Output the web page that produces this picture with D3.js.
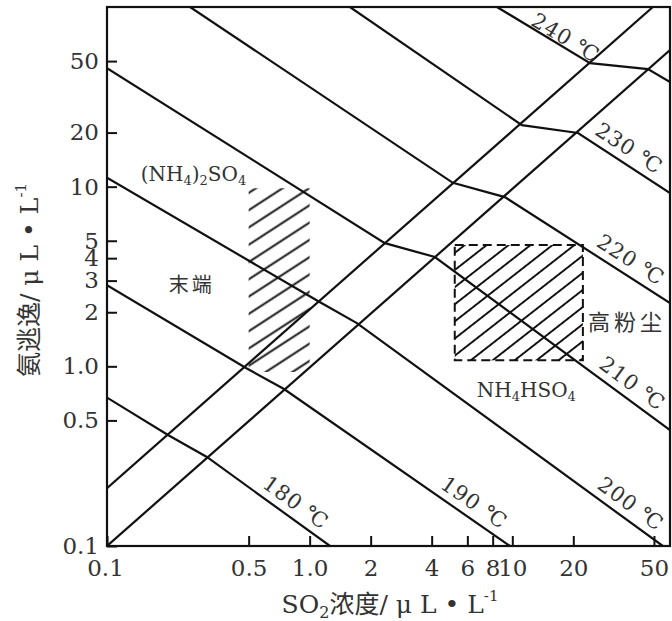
<!DOCTYPE html>
<html>
<head>
<meta charset="utf-8">
<script src="https://cdn.jsdelivr.net/npm/d3@7"></script>
<style>
  body { margin: 0; background: #fff; }
  text { fill: #333; }
</style>
</head>
<body>
<div id="chart"></div>
<script>
"use strict";

const WIDTH = 672, HEIGHT = 621;

// axis ticks
const xTicks = [0.1, 0.5, 1, 2, 4, 6, 8, 10, 20, 50];
const xTickLabels = ["0.1", "0.5", "1.0", "2", "4", "6", "8", "10", "20", "50"];
const yTicks = [0.1, 0.5, 1, 2, 3, 4, 5, 10, 20, 50];
const yTickLabels = ["0.1", "0.5", "1.0", "2", "3", "4", "5", "10", "20", "50"];

// isotherms: [SO2, NH3] in uL/L
const isoNames = ["180 ℃", "190 ℃", "200 ℃", "210 ℃", "220 ℃", "230 ℃", "240 ℃"];
const iso180 = [[0.1, 0.67], [0.2, 0.415], [0.311, 0.313], [1.26, 0.1]];
const iso190 = [[0.1, 2.83], [0.485, 0.978], [0.747, 0.748], [9.73, 0.1]];
const iso200 = [[0.1, 11.2], [1.12, 2.28], [1.71, 1.74], [55.3, 0.1]];
const iso210 = [[0.1, 45.7], [2.35, 4.85], [4.15, 4.06], [60, 0.442]];
const iso220 = [[0.257, 100], [5.09, 10.5], [9.19, 8.75], [60, 2.25]];
const iso230 = [[1.58, 100], [11.15, 22.0], [21.1, 19.9], [60, 9.21]];
const iso240 = [[8.4, 100], [24.2, 48.7], [46.7, 45.1], [60, 38.2]];
// where along each isotherm its label sits (SO2 value)
const isoLabelAt = [0.773, 5.88, 34.7, 35.3, 35.0, 34.3, 17.4];

// NH3/SO2 ratio boundaries
const ratioHigh = [[0.1, 0.21], [49.4, 100]];
const ratioLow = [[0.1, 0.1], [60, 57.6]];

// hatched zones
const sulfateX = [0.5, 1.0], sulfateY = [0.93, 9.8];
const bisulfateX = [5.2, 22.3], bisulfateY = [1.08, 4.73];

const svg = d3.select("#chart").append("svg")
  .attr("width", WIDTH)
  .attr("height", HEIGHT);

const x = d3.scaleLog().domain([0.1, 60]).range([107, 670]);
const y = d3.scaleLog().domain([0.1, 100]).range([546, 7]);

const serif = "'DejaVu Serif', 'Liberation Serif', serif";
const cjk = "'Noto Sans CJK SC', sans-serif";

const defs = svg.append("defs");
defs.append("clipPath").attr("id", "plot")
  .append("rect")
  .attr("x", x.range()[0]).attr("y", y.range()[1])
  .attr("width", x.range()[1] - x.range()[0])
  .attr("height", y.range()[0] - y.range()[1]);

function hatch(id, spacing, angle) {
  var p = defs.append("pattern")
    .attr("id", id)
    .attr("patternUnits", "userSpaceOnUse")
    .attr("width", 50).attr("height", spacing)
    .attr("patternTransform", "rotate(" + angle + ")");
  p.append("line")
    .attr("x1", 0).attr("x2", 50)
    .attr("y1", spacing / 2).attr("y2", spacing / 2)
    .attr("stroke", "#111").attr("stroke-width", 2);
}
hatch("hatchL", 14.5, -33);
hatch("hatchR", 13.5, -38);

const plot = svg.append("g").attr("clip-path", "url(#plot)");

// hatched zones
plot.append("rect")
  .attr("x", x(sulfateX[0])).attr("y", y(sulfateY[1]))
  .attr("width", x(sulfateX[1]) - x(sulfateX[0]))
  .attr("height", y(sulfateY[0]) - y(sulfateY[1]))
  .attr("fill", "url(#hatchL)");

plot.append("rect")
  .attr("x", x(bisulfateX[0])).attr("y", y(bisulfateY[1]))
  .attr("width", x(bisulfateX[1]) - x(bisulfateX[0]))
  .attr("height", y(bisulfateY[0]) - y(bisulfateY[1]))
  .attr("fill", "url(#hatchR)")
  .attr("stroke", "#111").attr("stroke-width", 2)
  .attr("stroke-dasharray", "9,5");

const line = d3.line()
  .x(function (d) { return x(d[0]); })
  .y(function (d) { return y(d[1]); });

const isotherms = [iso180, iso190, iso200, iso210, iso220, iso230, iso240];

plot.selectAll("path.iso")
  .data(isotherms.concat([ratioHigh, ratioLow]))
  .enter().append("path")
  .attr("class", "iso")
  .attr("d", line)
  .attr("fill", "none")
  .attr("stroke", "#111")
  .attr("stroke-width", 2.2);

// isotherm labels, rotated along the line
function pointOn(pts, xv) {
  for (var i = 0; i < pts.length - 1; i++) {
    var a = pts[i], b = pts[i + 1];
    if (xv >= a[0] && xv <= b[0]) {
      var t = Math.log(xv / a[0]) / Math.log(b[0] / a[0]);
      var yv = Math.exp(Math.log(a[1]) + t * Math.log(b[1] / a[1]));
      var ang = Math.atan2(y(b[1]) - y(a[1]), x(b[0]) - x(a[0])) * 180 / Math.PI;
      return { px: x(xv), py: y(yv), ang: ang };
    }
  }
}

isotherms.forEach(function (pts, i) {
  var p = pointOn(pts, isoLabelAt[i]);
  svg.append("text")
    .attr("transform", "translate(" + p.px + "," + p.py + ") rotate(" + p.ang + ")")
    .attr("y", i === 6 ? -2 : -8)
    .attr("text-anchor", "middle")
    .style("font-family", serif)
    .style("font-size", "21px")
    .style("letter-spacing", "1px")
    .text(isoNames[i]);
});

// frame
svg.append("rect")
  .attr("x", x.range()[0]).attr("y", y.range()[1])
  .attr("width", x.range()[1] - x.range()[0])
  .attr("height", y.range()[0] - y.range()[1])
  .attr("fill", "none")
  .attr("stroke", "#111")
  .attr("stroke-width", 2.2);

// axes
var xAxis = svg.append("g")
  .attr("transform", "translate(0," + y.range()[0] + ")")
  .call(d3.axisBottom(x)
    .tickValues(xTicks)
    .tickFormat(function (d, i) { return xTickLabels[i]; })
    .tickSizeInner(-10).tickSizeOuter(0).tickPadding(14));

var yAxis = svg.append("g")
  .attr("transform", "translate(" + x.range()[0] + ",0)")
  .call(d3.axisLeft(y)
    .tickValues(yTicks)
    .tickFormat(function (d, i) { return yTickLabels[i]; })
    .tickSizeInner(-10).tickSizeOuter(0).tickPadding(8));

[xAxis, yAxis].forEach(function (g) {
  g.select(".domain").remove();
  g.selectAll(".tick line").attr("stroke", "#111").attr("stroke-width", 2);
  g.selectAll(".tick text")
    .attr("fill", "#333")
    .style("font-family", serif)
    .style("font-size", "23px");
});
xAxis.selectAll(".tick text").filter(function (d) { return d === 0.1; }).attr("dx", -2);

// axis titles
var xt = svg.append("text")
  .attr("x", 390).attr("y", 613)
  .attr("text-anchor", "middle")
  .style("font-family", serif)
  .style("font-size", "25px");
xt.append("tspan").text("SO");
xt.append("tspan").attr("dy", 5).style("font-size", "16px").text("2");
xt.append("tspan").attr("dy", -5).style("font-family", cjk).text("浓度");
xt.append("tspan").text("/ μ L • L");
xt.append("tspan").attr("dy", -12).style("font-size", "15px").text("-1");

var yt = svg.append("text")
  .attr("transform", "translate(38,280) rotate(-90)")
  .attr("text-anchor", "middle")
  .style("font-family", serif)
  .style("font-size", "25px");
yt.append("tspan").style("font-family", cjk).text("氨逃逸");
yt.append("tspan").text("/ μ L • L");
yt.append("tspan").attr("dy", -12).style("font-size", "15px").text("-1");

// zone labels
var s1 = svg.append("text")
  .attr("x", x(sulfateX[0]) - 108).attr("y", y(sulfateY[1]) - 7)
  .style("font-family", serif)
  .style("font-size", "20px");
s1.append("tspan").text("(NH");
s1.append("tspan").attr("dy", 4).style("font-size", "13px").text("4");
s1.append("tspan").attr("dy", -4).text(")");
s1.append("tspan").attr("dy", 4).style("font-size", "13px").text("2");
s1.append("tspan").attr("dy", -4).text("SO");
s1.append("tspan").attr("dy", 4).style("font-size", "13px").text("4");

svg.append("text")
  .attr("x", x(sulfateX[0]) - 80).attr("y", 292)
  .style("font-family", cjk)
  .style("font-size", "20px")
  .style("letter-spacing", "3px")
  .text("末端");

svg.append("text")
  .attr("x", x(bisulfateX[1]) + 5).attr("y", 330)
  .style("font-family", cjk)
  .style("font-size", "22px")
  .style("letter-spacing", "4px")
  .text("高粉尘");

var s2 = svg.append("text")
  .attr("x", x(bisulfateX[0]) + 22).attr("y", y(bisulfateY[0]) + 37)
  .style("font-family", serif)
  .style("font-size", "20px");
s2.append("tspan").text("NH");
s2.append("tspan").attr("dy", 4).style("font-size", "13px").text("4");
s2.append("tspan").attr("dy", -4).text("HSO");
s2.append("tspan").attr("dy", 4).style("font-size", "13px").text("4");
</script>
</body>
</html>
